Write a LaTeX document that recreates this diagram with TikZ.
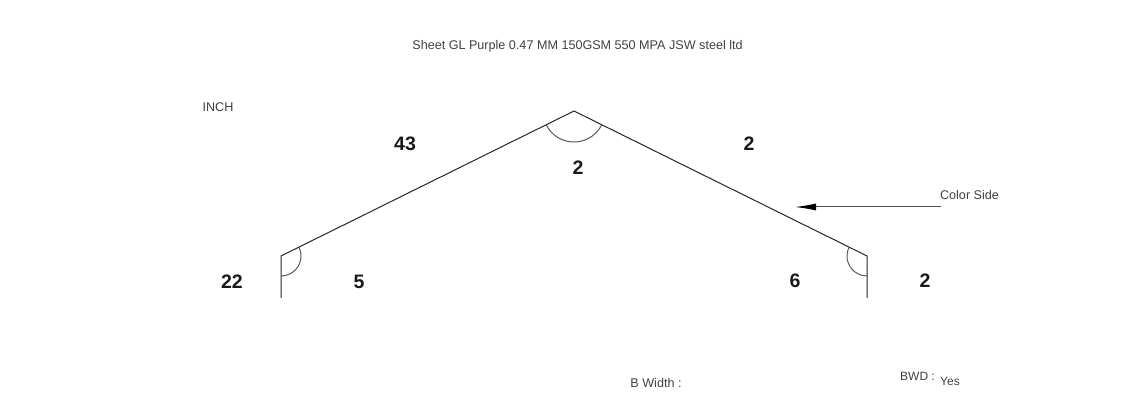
\documentclass[tikz,border=0pt]{standalone}
\usepackage{fontspec}
\setmainfont{Liberation Sans}
\usetikzlibrary{arrows.meta}
\tikzset{
    sheetline/.style={draw=black!85,line width=1pt},
    anglearc/.style={draw=black!65,line width=1pt},
    dimlabel/.style={font=\fontsize{19.5}{21}\selectfont\bfseries,text=black!90,inner sep=0pt},
    notelabel/.style={font=\fontsize{12.6}{14}\selectfont,text=black!75,inner sep=0pt},
}
\begin{document}
\begin{tikzpicture}[x=1pt,y=1pt]
    \useasboundingbox (0,0) rectangle (1138,417);
    \coordinate (leftend) at (281,119);
    \coordinate (leftcorner) at (281,161);
    \coordinate (apex) at (574,306);
    \coordinate (rightcorner) at (867,161);
    \coordinate (rightend) at (867,119);
    \coordinate (sidestart) at (941,210);
    \coordinate (sideend) at (795,210);

    \node[notelabel] (title) at (577.5,371) {Sheet GL Purple 0.47 MM 150GSM 550 MPA JSW steel ltd};
    \node[notelabel] (unit) at (218,310) {INCH};
    \node[dimlabel] (d43) at (405,273) {43};
    \node[dimlabel] (d2right) at (749,273) {2};
    \node[dimlabel] (d2apex) at (578,249) {2};
    \node[dimlabel] (d22) at (232,135) {22};
    \node[dimlabel] (d5) at (359,135) {5};
    \node[dimlabel] (d6) at (795,136) {6};
    \node[dimlabel] (d2end) at (925,136) {2};
    \node[notelabel] (side) at (969.5,222) {Color Side};
    \node[notelabel] (bwidth) at (656,34) {B Width :};
    \node[notelabel,font=\fontsize{12}{14}\selectfont] (bwd) at (917.5,41) {BWD :};
    \node[notelabel,font=\fontsize{12}{14}\selectfont] (yes) at (950,36) {Yes};

    \draw[sheetline,line join=miter] (leftend) -- (leftcorner) -- (apex) -- (rightcorner) -- (rightend);
    \draw[anglearc] (apex) ++(206.3:31) arc[start angle=206.3,end angle=333.7,radius=31];
    \draw[anglearc] (leftcorner) ++(26.3:20) arc[start angle=26.3,end angle=-90,radius=20];
    \draw[anglearc] (rightcorner) ++(153.7:20) arc[start angle=153.7,end angle=270,radius=20];
    \draw[-{Latex[length=21pt,width=7pt,black]},draw=black!70,line width=1pt] (sidestart) -- (sideend);
\end{tikzpicture}
\end{document}
